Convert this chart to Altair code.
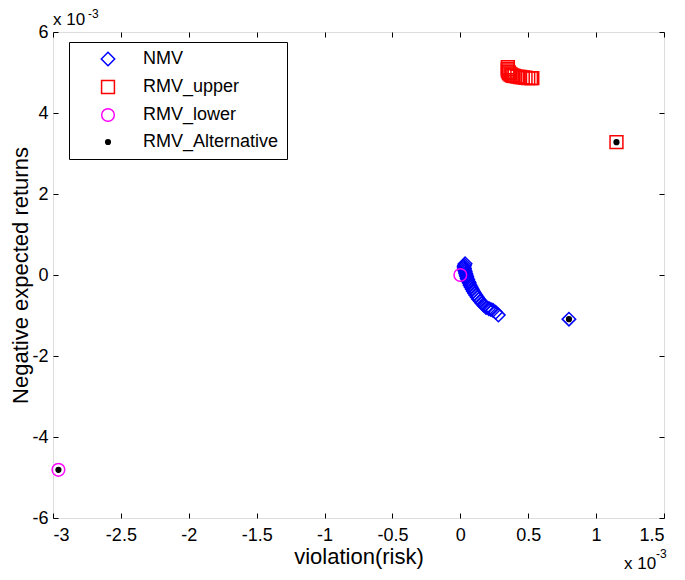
import altair as alt
import pandas as pd

# values in units of 1e-3
series_names = ["NMV", "RMV_upper", "RMV_lower", "RMV_Alternative"]

nmv_x = [0.035, 0.03, 0.028, 0.03, 0.033, 0.036, 0.04, 0.043, 0.047, 0.05, 0.055, 0.06, 0.066, 0.072,
         0.08, 0.088, 0.096, 0.105, 0.115, 0.125, 0.135, 0.148, 0.16, 0.175, 0.19, 0.21, 0.225, 0.24,
         0.26, 0.28, 0.80]
nmv_y = [0.28, 0.24, 0.20, 0.16, 0.12, 0.08, 0.04, 0.0, -0.04, -0.08, -0.12, -0.16, -0.20, -0.25,
         -0.30, -0.35, -0.40, -0.45, -0.50, -0.55, -0.60, -0.65, -0.70, -0.75, -0.80, -0.83, -0.85, -0.87,
         -0.92, -0.99, -1.09]

upper_x = [0.35, 0.35, 0.35, 0.355, 0.36, 0.37, 0.38, 0.39, 0.40, 0.42, 0.44, 0.46, 0.48, 0.50, 0.52, 0.53, 1.15]
upper_y = [5.13, 5.09, 5.05, 5.01, 4.98, 4.95, 4.93, 4.92, 4.91, 4.90, 4.89, 4.88, 4.87, 4.86, 4.86, 4.86, 3.28]

lower_x = [0.0, -2.96]
lower_y = [0.0, -4.81]

alt_x = [0.80, 1.15, -2.96]
alt_y = [-1.09, 3.28, -4.81]

x_ticks = [-3, -2.5, -2, -1.5, -1, -0.5, 0, 0.5, 1, 1.5]
y_ticks = [-6, -4, -2, 0, 2, 4, 6]

frames = []
for name, xs, ys in [("NMV", nmv_x, nmv_y), ("RMV_upper", upper_x, upper_y),
                     ("RMV_lower", lower_x, lower_y), ("RMV_Alternative", alt_x, alt_y)]:
    frames.append(pd.DataFrame({"x": xs, "y": ys, "series": name}))
df = pd.concat(frames, ignore_index=True)

FONT = "Liberation Sans"
W, H = 611, 486
xscale = alt.Scale(domain=[-3, 1.5], nice=False, zero=False)
yscale = alt.Scale(domain=[-6, 6], nice=False, zero=False)
label_expr = "datum.value + ''"

legend = alt.Legend(
    orient="none", legendX=16, legendY=10, title=None,
    strokeColor="black", fillColor="white", padding=8,
    labelFont=FONT, labelFontSize=18, labelColor="black",
    rowPadding=8, symbolOffset=22, labelOffset=26,
    symbolStrokeWidth=1.5,
)

points = alt.Chart(df).mark_point(filled=False, strokeWidth=1.5, opacity=1).encode(
    x=alt.X("x:Q", scale=xscale, axis=alt.Axis(
        orient="bottom", values=x_ticks, labelExpr=label_expr, ticks=False, domain=False, grid=False,
        labelFont=FONT, labelFontSize=18, labelColor="black", labelPadding=8,
        title="violation(risk)", titleFont=FONT, titleFontSize=22, titleFontWeight="normal",
        titleColor="black", titleBaseline="alphabetic", titleY=45)),
    y=alt.Y("y:Q", scale=yscale, axis=alt.Axis(
        orient="left", values=y_ticks, labelExpr=label_expr, ticks=False, domain=False, grid=False,
        labelFont=FONT, labelFontSize=18, labelColor="black", labelPadding=5,
        title="Negative expected returns", titleFont=FONT, titleFontSize=22, titleFontWeight="normal",
        titleColor="black", titleX=-33, titleY=H / 2, titleAngle=-90, titleAlign="center",
        titleBaseline="middle")),
    shape=alt.Shape("series:N", scale=alt.Scale(domain=series_names, range=["diamond", "square", "circle", "circle"]), legend=legend),
    stroke=alt.Stroke("series:N", scale=alt.Scale(domain=series_names, range=["#0000ff", "#ff0000", "#ff00ff", "#000000"]), legend=legend),
    fill=alt.Fill("series:N", scale=alt.Scale(domain=series_names, range=["transparent", "transparent", "transparent", "#000000"]), legend=legend),
    size=alt.Size("series:N", scale=alt.Scale(type="ordinal", domain=series_names, range=[180, 165, 160, 22]), legend=legend),
    order=alt.Order("idx:Q"),
).transform_window(idx="row_number()")

def tick_axis(orient, values):
    return alt.Axis(orient=orient, values=values, labels=False, domain=False, grid=False, title=None,
                    ticks=True, tickSize=5, offset=-5, tickColor="black", tickWidth=1)

ticks_a = alt.Chart(df).mark_point(opacity=0).encode(
    x=alt.X("x:Q", scale=xscale, axis=tick_axis("top", x_ticks)),
    y=alt.Y("y:Q", scale=yscale, axis=tick_axis("right", y_ticks)),
)
ticks_b = alt.Chart(df).mark_point(opacity=0).encode(
    x=alt.X("x:Q", scale=xscale, axis=tick_axis("bottom", x_ticks)),
    y=alt.Y("y:Q", scale=yscale, axis=tick_axis("left", y_ticks)),
)

ann_big = alt.Chart(pd.DataFrame({"t": ["x 10"]})).mark_text(
    font=FONT, fontSize=17, align="left", baseline="alphabetic", color="black"
).encode(text="t:N", x=alt.value(0), y=alt.value(-7))
ann_big_sup = alt.Chart(pd.DataFrame({"t": ["-3"]})).mark_text(
    font=FONT, fontSize=12, align="left", baseline="alphabetic", color="black"
).encode(text="t:N", x=alt.value(35), y=alt.value(-14))
ann_br = alt.Chart(pd.DataFrame({"t": ["x 10"]})).mark_text(
    font=FONT, fontSize=17, align="left", baseline="alphabetic", color="black"
).encode(text="t:N", x=alt.value(571), y=alt.value(537))
ann_br_sup = alt.Chart(pd.DataFrame({"t": ["-3"]})).mark_text(
    font=FONT, fontSize=12, align="left", baseline="alphabetic", color="black"
).encode(text="t:N", x=alt.value(603), y=alt.value(526))

chart = alt.layer(ticks_a, ticks_b, points, ann_big, ann_big_sup, ann_br, ann_br_sup).resolve_axis(
    x="independent", y="independent"
).properties(
    width=W, height=H,
    autosize=alt.AutoSizeParams(type="none"),
    padding={"left": 45, "top": 24, "right": 13, "bottom": 54},
).configure_view(stroke="black", strokeWidth=1).configure(background="white")

chart.save("out.html", embed_options={"renderer": "svg", "actions": False})
